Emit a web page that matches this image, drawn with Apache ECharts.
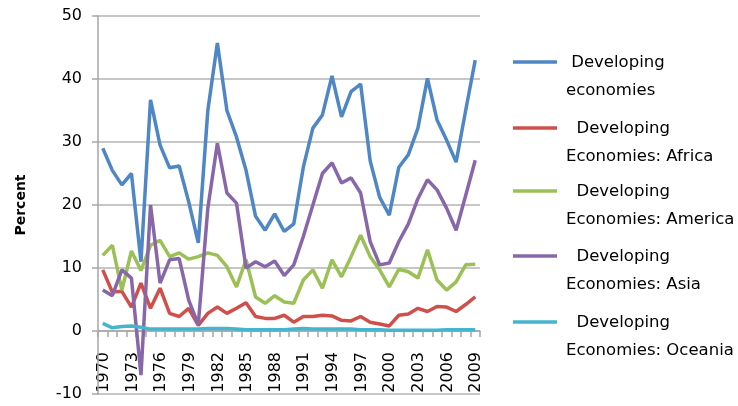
<!DOCTYPE html>
<html lang="en">
<head>
    <meta charset="utf-8">
    <title>Developing economies</title>
    <script src="https://cdn.jsdelivr.net/npm/echarts@6/dist/echarts.min.js"></script>
    <style>
        html, body { margin: 0; padding: 0; background: #fff; }
        #main { width: 738px; height: 406px; }
    </style>
</head>
<body>
<div id="main"></div>
<script type="text/javascript">
    // years on the category axis
    var years = ['1970', '1971', '1972', '1973', '1974', '1975', '1976', '1977', '1978', '1979',
        '1980', '1981', '1982', '1983', '1984', '1985', '1986', '1987', '1988', '1989',
        '1990', '1991', '1992', '1993', '1994', '1995', '1996', '1997', '1998', '1999',
        '2000', '2001', '2002', '2003', '2004', '2005', '2006', '2007', '2008', '2009'];

    // series values, percent
    var developing = [29, 25.5, 23.2, 25, 11, 36.7, 29.5, 25.9, 26.2, 20.5,
        14, 35, 45.7, 35, 30.8, 25.5, 18.2, 16, 18.6, 15.8,
        17, 26, 32.2, 34.3, 40.5, 34, 38, 39.2, 27, 21.2,
        18.4, 26, 28, 32.2, 40.1, 33.5, 30.3, 26.8, 35, 43];
    var africa = [9.7, 6.2, 6.3, 3.8, 7.6, 3.6, 6.8, 2.8, 2.3, 3.6,
        0.9, 2.8, 3.8, 2.8, 3.6, 4.5, 2.3, 2, 2, 2.5,
        1.4, 2.3, 2.3, 2.5, 2.4, 1.7, 1.6, 2.3, 1.4, 1.1,
        0.8, 2.5, 2.7, 3.6, 3.1, 3.9, 3.8, 3.1, 4.2, 5.4];
    var america = [12, 13.6, 6.5, 12.7, 9.6, 13.6, 14.4, 11.8, 12.4, 11.4,
        11.8, 12.4, 12, 10.2, 7, 11.3, 5.4, 4.4, 5.6, 4.6,
        4.4, 8.1, 9.7, 6.8, 11.3, 8.6, 11.8, 15.2, 11.8, 9.7,
        7, 9.8, 9.4, 8.4, 12.9, 8.1, 6.5, 7.8, 10.5, 10.6];
    var asia = [6.5, 5.6, 9.7, 8.4, -7, 20, 7.6, 11.3, 11.5, 4.9,
        1, 19.5, 29.8, 21.9, 20.3, 10, 11, 10.2, 11.1, 8.8,
        10.5, 15, 20, 25, 26.7, 23.5, 24.3, 21.9, 14.2, 10.5,
        10.8, 14.2, 17, 21, 24, 22.4, 19.5, 16, 21.5, 27.1];
    var oceania = [1.2, 0.5, 0.7, 0.8, 0.6, 0.3, 0.3, 0.3, 0.3, 0.3,
        0.3, 0.4, 0.4, 0.4, 0.3, 0.2, 0.2, 0.2, 0.2, 0.2,
        0.3, 0.4, 0.3, 0.3, 0.3, 0.3, 0.3, 0.2, 0.2, 0.2,
        0.1, 0.1, 0.1, 0.1, 0.1, 0.1, 0.2, 0.2, 0.2, 0.2];

    var seriesNames = ['Developing economies', 'Developing Economies: Africa', 'Developing Economies: America',
        'Developing Economies: Asia', 'Developing Economies: Oceania'];
    // legend text, two lines each
    var legendLine1 = [' Developing', '  Developing', '  Developing', '  Developing', '  Developing'];
    var legendLine2 = ['economies', 'Economies: Africa', 'Economies: America', 'Economies: Asia', 'Economies: Oceania'];
    var colors = ['#4F86C6', '#CF504A', '#9BC056', '#8767AA', '#45B5CF'];
    var allData = [developing, africa, america, asia, oceania];

    var fontFamily = '"DejaVu Sans", Verdana, sans-serif';

    var myChart = echarts.init(document.getElementById('main'));

    var series = [];
    for (var i = 0; i < allData.length; i++) {
        series.push({
            name: seriesNames[i],
            type: 'line',
            data: allData[i],
            symbol: 'none',
            lineStyle: {color: colors[i], width: 3.5},
            itemStyle: {color: colors[i]},
            animation: false
        });
    }

    // legend drawn at the right, swatch next to the first text line
    var legendTop = [62, 128, 191, 256, 322];
    var graphics = [];
    for (var k = 0; k < seriesNames.length; k++) {
        graphics.push({
            type: 'line',
            id: 'legline' + k,
            shape: {x1: 513, y1: legendTop[k], x2: 557, y2: legendTop[k]},
            style: {stroke: colors[k], lineWidth: 3.5}
        });
        graphics.push({
            type: 'text',
            id: 'legtext' + k,
            left: 566,
            top: legendTop[k] - 13,
            style: {
                text: legendLine1[k] + '\n' + legendLine2[k],
                font: '16.5px ' + fontFamily,
                fill: '#000',
                lineHeight: 28
            }
        });
    }

    option = {
        backgroundColor: '#fff',
        animation: false,
        grid: {left: 98, right: 258, top: 16, bottom: 12, outerBoundsMode: 'none'},
        xAxis: {
            type: 'category',
            data: years,
            axisLine: {onZero: true, lineStyle: {color: '#A6A6A6', width: 1.5}},
            axisTick: {show: true, interval: 0, length: 6, lineStyle: {color: '#A6A6A6', width: 1.5}},
            axisLabel: {show: false}
        },
        yAxis: {
            type: 'value',
            min: -10,
            max: 50,
            interval: 10,
            name: 'Percent',
            nameLocation: 'middle',
            nameGap: 70,
            nameTextStyle: {color: '#000', fontSize: 14, fontWeight: 'bold', fontFamily: fontFamily},
            axisLine: {show: true, lineStyle: {color: '#A6A6A6', width: 1.5}},
            axisTick: {show: true, length: 6, lineStyle: {color: '#A6A6A6', width: 1.5}},
            axisLabel: {color: '#000', fontSize: 16, margin: 16, fontFamily: fontFamily},
            splitLine: {show: true, lineStyle: {color: '#B4B4B4', width: 1.5}}
        },
        series: series,
        graphic: graphics
    };

    myChart.setOption(option);

    // year labels, every third year, hanging below the zero line (positions from the axis scale)
    var zeroY = myChart.convertToPixel({yAxisIndex: 0}, 0);
    for (var j = 0; j < years.length; j += 3) {
        var px = myChart.convertToPixel({xAxisIndex: 0}, years[j]);
        graphics.push({
            type: 'text',
            id: 'year' + j,
            x: px + 1,
            y: zeroY + 21,
            rotation: Math.PI / 2,
            style: {
                text: years[j],
                font: '16px ' + fontFamily,
                fill: '#000',
                align: 'right',
                textAlign: 'right',
                verticalAlign: 'middle',
                textVerticalAlign: 'middle'
            }
        });
    }
    myChart.setOption({graphic: graphics});
</script>
</body>
</html>
